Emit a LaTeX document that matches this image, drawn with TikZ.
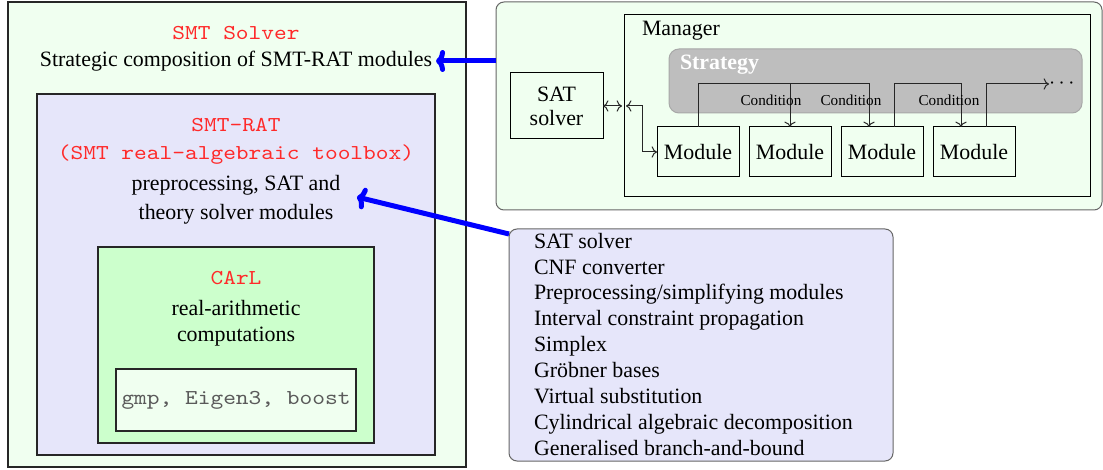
\documentclass[tikz,border=0pt]{standalone}
\usepackage{fontspec}
\setmainfont{Liberation Serif}
\setmonofont{Latin Modern Mono}[FakeStretch=1.143]
\usetikzlibrary{arrows.meta}
\definecolor{hd}{HTML}{F0FFF0}
\definecolor{lav}{HTML}{E6E6FA}
\definecolor{carlc}{HTML}{CCFFCC}
\definecolor{tred}{HTML}{FF2A2A}
\definecolor{stratc}{HTML}{BEBEBE}
\definecolor{stratb}{HTML}{A8A8A8}
\definecolor{libgray}{HTML}{5A5A5A}
\begin{document}
\begin{tikzpicture}[x=0.5pt,y=-0.5pt,
  font=\fontsize{10.95}{13}\selectfont,
  every node/.style={inner sep=0pt, outer sep=0pt},
  bigbox/.style={draw=black!85, line width=0.8pt, anchor=north west},
  thinbox/.style={draw=black, line width=0.5pt, anchor=north west},
  modbox/.style={draw=black, line width=0.5pt, anchor=north west, minimum width=41pt, minimum height=25pt},
  tt/.style={font=\fontsize{10.6}{13}\selectfont\ttfamily, text=tred},
  cond/.style={font=\fontsize{7.6}{9}\selectfont},
  link/.style={line width=0.5pt, draw=black!85},
  bluearrow/.style={draw=blue, line width=2.5pt, -{To[length=4.5pt,width=11pt,round]}}
]
\useasboundingbox (0,0) rectangle (1103,470);

% ---------- left nested boxes ----------
\node[bigbox, fill=hd, minimum width=229pt, minimum height=232.5pt] (solver) at (8,2) {};
\node[tt] (solvertitle) at (236,33) {SMT Solver};
\node (solvertext) at (236,61) {Strategic composition of SMT-RAT modules};

\node[bigbox, fill=lav, minimum width=199pt, minimum height=180.5pt] (smtrat) at (37,94) {};
\node[tt] (rattitle) at (236,125) {SMT-RAT};
\node[tt] (ratsub) at (236,155) {(SMT real-algebraic toolbox)};
\node (ratl1) at (236,185) {preprocessing, SAT and};
\node (ratl2) at (236,214) {theory solver modules};

\node[bigbox, fill=carlc, minimum width=138pt, minimum height=98pt] (carl) at (98,247) {};
\node[tt] (carltitle) at (236,278) {CArL};
\node (carll1) at (236,308) {real-arithmetic};
\node (carll2) at (236,337) {computations};

\node[bigbox, fill=hd, minimum width=120pt, minimum height=31pt,
      font=\fontsize{10.6}{13}\selectfont\ttfamily, text=libgray] (libs) at (116,369) {gmp, Eigen3, boost};

% ---------- top right: architecture ----------
\node[draw=black!60, line width=0.5pt, fill=hd, rounded corners=4pt, anchor=north west,
      minimum width=303pt, minimum height=104pt] (arch) at (496,2) {};
\node[thinbox, fill=hd, minimum width=233pt, minimum height=91pt] (manager) at (624,15) {};
\node[anchor=west] (managerlbl) at (642,31) {Manager};
\node[draw=stratb, line width=0.5pt, fill=stratc, rounded corners=5pt, anchor=north west,
      minimum width=206.5pt, minimum height=32pt] (strategy) at (669,49) {};
\node[anchor=west, text=white, font=\fontsize{10.95}{13}\selectfont\bfseries] (stratlbl) at (680,65) {Strategy};

\node[thinbox, fill=hd, minimum width=46.5pt, minimum height=33pt, align=center] (sat) at (510,73) {SAT\\[-1pt]solver};

\node[modbox] (m1) at (657,127) {Module};
\node[modbox] (m2) at (749,127) {Module};
\node[modbox] (m3) at (841,127) {Module};
\node[modbox] (m4) at (933,127) {Module};

\coordinate (mgrin) at (manager.west |- sat.east);
\draw[link, <->] (sat.east) -- ([xshift=-1pt]mgrin);
\draw[link, <->] ([xshift=1pt]mgrin) -- ++(16,0) |- (m1.west);

\coordinate (c1) at ([yshift=21.5pt]m1.north);
\coordinate (t3) at ([xshift=-6.5pt]m3.north);
\coordinate (s3) at ([xshift=6pt]m3.north);
\coordinate (t4) at ([xshift=-6.5pt]m4.north);
\coordinate (s4) at ([xshift=6pt]m4.north);
\draw[link, ->] (m1.north) -- (c1) -| (m2.north);
\draw[link, ->] (c1) -| (t3);
\draw[link, ->] (s3) |- ([yshift=21.5pt]s3 -| t4) -- (t4);
\node[anchor=west] (dots) at (1049,84) {$\cdots$};
\draw[link, ->] (s4) |- (dots.west);

\node[cond] (cond1) at (771,100) {Condition};
\node[cond] (cond2) at (851,100) {Condition};
\node[cond] (cond3) at (949,100) {Condition};

% ---------- module list ----------
\node[draw=black!60, line width=0.5pt, fill=lav, rounded corners=4pt, anchor=north west,
      minimum width=192pt, minimum height=116pt] (list) at (509,229) {};
\node[anchor=north west, align=left, font=\fontsize{10.95}{12.95}\selectfont] (listtext) at (534,233) {SAT solver\\
CNF converter\\
Preprocessing/simplifying modules\\
Interval constraint propagation\\
Simplex\\
Gröbner bases\\
Virtual substitution\\
Cylindrical algebraic decomposition\\
Generalised branch-and-bound};

% ---------- blue arrows ----------
\draw[bluearrow] (arch.west |- solvertext.east) -- ([xshift=2pt]solvertext.east);
\coordinate (ratin) at (357,197);
\draw[bluearrow] ([yshift=-2.5pt]list.north west) -- (ratin);
\end{tikzpicture}
\end{document}
